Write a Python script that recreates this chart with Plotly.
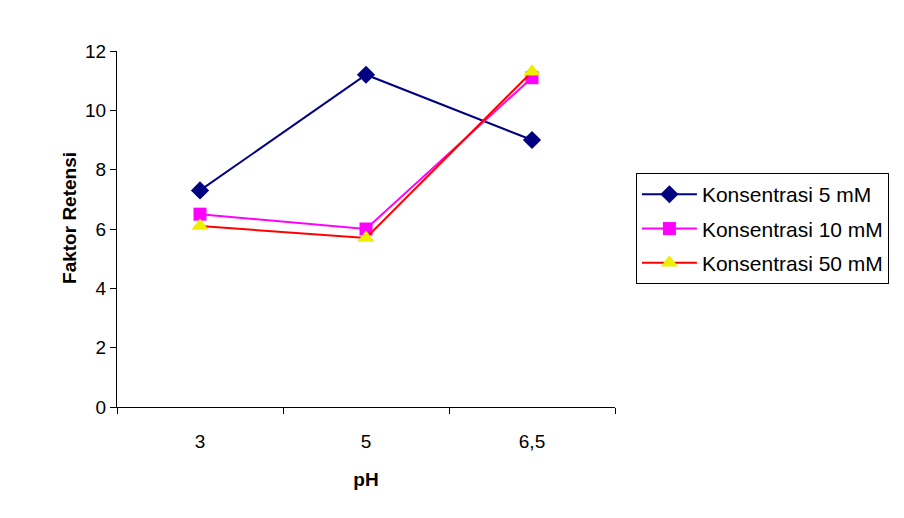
import plotly.graph_objects as go

categories = ["3", "5", "6,5"]
k5 = [7.3, 11.2, 9.0]
k10 = [6.5, 6.0, 11.1]
k50 = [6.1, 5.7, 11.3]
names = ["Konsentrasi 5 mM", "Konsentrasi 10 mM", "Konsentrasi 50 mM"]

font = "Liberation Sans, Arial, sans-serif"
fig = go.Figure()
fig.add_trace(go.Scatter(x=categories, y=k5, name=names[0], mode="lines+markers",
                         legendgroup="a",
                         line=dict(color="#000080", width=2),
                         marker=dict(symbol="diamond", size=14, color="#000080")))
fig.add_trace(go.Scatter(x=categories, y=k10, name=names[1], mode="lines+markers",
                         legendgroup="b",
                         line=dict(color="#FF00FF", width=2),
                         marker=dict(symbol="square", size=13, color="#FF00FF")))
fig.add_trace(go.Scatter(x=categories, y=k50, name=names[2], mode="lines+markers",
                         legendgroup="c",
                         line=dict(color="#FF0000", width=2),
                         marker=dict(symbol="triangle-up", size=15, color="#EEEE00")))

fig.update_layout(
    width=904, height=518,
    margin=dict(l=117, r=289, t=51, b=111),
    paper_bgcolor="white", plot_bgcolor="white",
    font=dict(family=font, size=18, color="black"),
    showlegend=True,
    legend=dict(x=1.042, y=0.657, xanchor="left", yanchor="top",
                bordercolor="black", borderwidth=1, bgcolor="white",
                font=dict(size=21), tracegroupgap=4, itemwidth=55),
    xaxis=dict(type="category", range=[-0.5, 2.5], tickson="boundaries",
               showline=True, linecolor="black", linewidth=1,
               ticks="outside", ticklen=6, tickcolor="black",
               showgrid=False, zeroline=False, ticklabelstandoff=17,
               title=dict(text="<b>pH</b>", font=dict(size=19), standoff=21),
               tickfont=dict(size=19)),
    yaxis=dict(range=[0, 12], dtick=2, showline=True, linecolor="black", linewidth=1,
               ticks="outside", ticklen=6, tickcolor="black",
               showgrid=False, zeroline=False,
               tickfont=dict(size=19)),
    annotations=[dict(text="<b>Faktor Retensi</b>", textangle=-90, showarrow=False,
                      xref="paper", yref="paper", x=-0.0944, y=0.531,
                      xanchor="center", yanchor="middle", font=dict(size=19))],
)
fig.write_html("out.html")
